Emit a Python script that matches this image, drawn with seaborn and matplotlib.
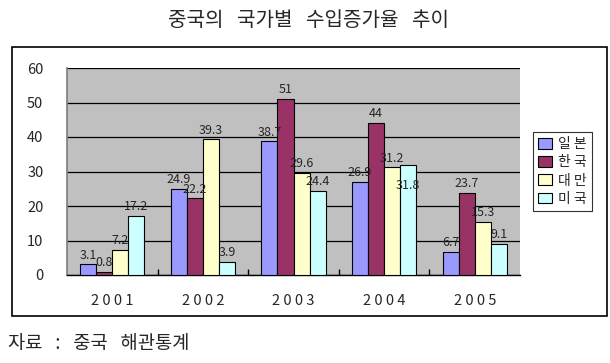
import matplotlib
matplotlib.use("Agg")
import matplotlib.pyplot as plt
import matplotlib.patches as mpatches
import seaborn as sns
import pandas as pd

years = ["2001", "2002", "2003", "2004", "2005"]
countries = ["일 본", "한 국", "대 만", "미 국"]
japan = [3.1, 24.9, 38.7, 26.9, 6.7]
korea = [0.8, 22.2, 51, 44, 23.7]
taiwan = [7.2, 39.3, 29.6, 31.2, 15.3]
usa = [17.2, 3.9, 24.4, 31.8, 9.1]
colors = ["#9999FF", "#993366", "#FFFFCC", "#CCFFFF"]

rows = []
for c, vals in zip(countries, [japan, korea, taiwan, usa]):
    for y, v in zip(years, vals):
        rows.append({"year": y, "country": c, "value": v})
df = pd.DataFrame(rows)

sns.set_theme(style="white")
plt.rcParams['font.family'] = ['Noto Sans CJK KR', 'DejaVu Sans']

fig = plt.figure(figsize=(6.1, 3.63), dpi=100)
W, H = 610, 363
ax = fig.add_axes([67 / W, 1 - 275 / H, (520 - 67) / W, (275 - 68) / H])

# outer frame
fig.patches.append(mpatches.Rectangle((12 / W, 1 - 316 / H), (607 - 12) / W, (316 - 47) / H,
                                      transform=fig.transFigure, fill=False, edgecolor="black",
                                      linewidth=1.2, zorder=0))

sns.barplot(data=df, x="year", y="value", hue="country", palette=colors, ax=ax,
            width=0.71, edgecolor="black", linewidth=0.8, saturation=1, zorder=3, legend=True)

ax.set_facecolor("#C0C0C0")
ax.set_ylim(0, 60)
ax.set_yticks(range(0, 61, 10))
ax.yaxis.grid(True, color="black", linewidth=0.9, zorder=0)
ax.set_axisbelow(True)
for s in ["top", "right"]:
    ax.spines[s].set_visible(False)
ax.spines["left"].set_color("#808080")
ax.spines["bottom"].set_color("black")
ax.spines["bottom"].set_linewidth(1.0)
ax.set_xlabel("")
ax.set_ylabel("")
ax.set_xticks(range(len(years)))
ax.set_xticklabels([" ".join(y) for y in years], fontsize=10.5)
ax.tick_params(axis="y", labelsize=10.5, left=False, pad=11)
ax.tick_params(axis="x", bottom=False, pad=8)
ax.set_xticks([i + 0.5 for i in range(len(years) - 1)], minor=True)
ax.tick_params(axis="x", which="minor", direction="in", length=4, bottom=True, color="black")
ax.set_xlim(-0.5, len(years) - 0.5)

# label offsets (points) to reproduce the reference label placement
offsets = {("미 국", "2004"): -19}
for cont, c in zip(ax.containers, countries):
    for bar, v, y in zip(cont, cont.datavalues, years):
        off = offsets.get((c, y), 2)
        ax.annotate("%g" % v, (bar.get_x() + bar.get_width() / 2, bar.get_height()),
                    xytext=(0, off), textcoords="offset points", ha="center",
                    va="bottom", fontsize=9, zorder=5)

leg = ax.legend(loc="center left", bbox_to_anchor=(1.028, 0.5), frameon=True, fancybox=False,
                edgecolor="black", fontsize=10, handlelength=1.0, handleheight=0.8,
                handletextpad=0.4, borderpad=0.4, labelspacing=0.3, borderaxespad=0)
leg.get_frame().set_linewidth(0.8)

fig.text(0.506, 1 - 20 / H, "중국의   국가별   수입증가율   추이", ha="center", va="center", fontsize=14.5)
fig.text(8 / W, 1 - 343 / H, "자료   :   중국   해관통계", ha="left", va="center", fontsize=13.5)

fig.savefig("out.png", dpi=100)
